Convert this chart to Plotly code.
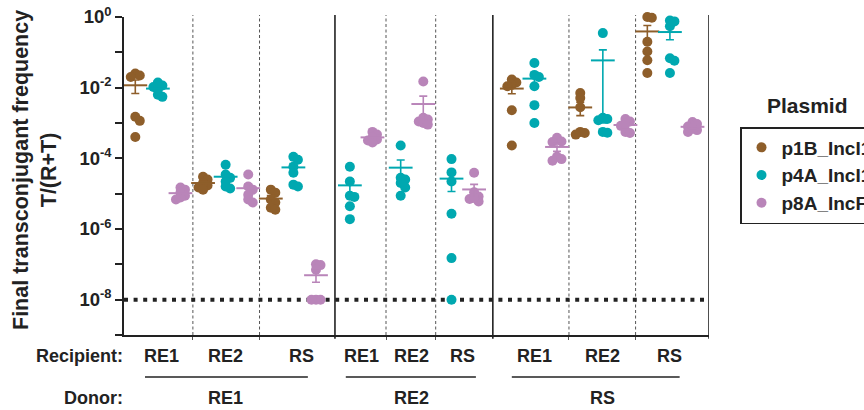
import numpy as np
import plotly.graph_objects as go

# ---------------- data ----------------
plasmids = ["p1B_IncI1", "p4A_IncI1", "p8A_IncFII"]
donors = ["RE1", "RE2", "RS"]
recipients = ["RE1", "RE2", "RS"]
detection_limit = 1e-8
major_exponents = [0, -2, -4, -6, -8]
minor_exponents = [-1, -3, -5, -7, -9]

# Donor RE1
p1B_dRE1_rRE1 = [2.5e-2, 2.2e-2, 2.0e-2, 1.5e-3, 1.15e-3, 4.0e-4]
p4A_dRE1_rRE1 = [1.4e-2, 1.15e-2, 1.05e-2, 8.7e-3, 6.3e-3, 5.5e-3]
p8A_dRE1_rRE1 = [1.5e-5, 1.3e-5, 1.07e-5, 8.7e-6, 7.8e-6, 6.8e-6]
p1B_dRE1_rRE2 = [3.0e-5, 2.5e-5, 2.0e-5, 1.7e-5, 1.5e-5, 1.3e-5]
p4A_dRE1_rRE2 = [6.6e-5, 3.5e-5, 2.8e-5, 2.2e-5, 1.6e-5, 1.4e-5]
p8A_dRE1_rRE2 = [3.5e-5, 1.6e-5, 1.3e-5, 9.3e-6, 6.8e-6, 5.6e-6]
p1B_dRE1_rRS = [1.3e-5, 1.07e-5, 6.8e-6, 5.6e-6, 4.0e-6, 3.5e-6]
p4A_dRE1_rRS = [1.1e-4, 9.1e-5, 5.8e-5, 3.9e-5, 1.8e-5, 1.6e-5]
p8A_dRE1_rRS = [1.0e-7, 9.5e-8, 7.0e-8, 1.0e-8, 1.0e-8, 1.0e-8]
# Donor RE2 (p1B not tested)
p4A_dRE2_rRE1 = [5.8e-5, 2.2e-5, 8.7e-6, 8.1e-6, 4.4e-6, 1.9e-6]
p8A_dRE2_rRE1 = [5.6e-4, 4.7e-4, 3.8e-4, 3.4e-4, 3.2e-4, 2.8e-4]
p4A_dRE2_rRE2 = [2.3e-4, 2.8e-5, 2.5e-5, 2.0e-5, 1.5e-5, 8.7e-6]
p8A_dRE2_rRE2 = [1.5e-2, 1.4e-3, 1.25e-3, 1.1e-3, 1.0e-3, 9.0e-4]
p4A_dRE2_rRS = [9.5e-5, 4.0e-5, 2.2e-5, 2.7e-6, 1.5e-7, 1.0e-8]
p8A_dRE2_rRS = [3.9e-5, 1.1e-5, 8.3e-6, 7.1e-6, 6.0e-6, 7.6e-6]
# Donor RS
p1B_dRS_rRE1 = [1.7e-2, 1.4e-2, 1.2e-2, 1.1e-2, 2.3e-3, 2.3e-4]
p4A_dRS_rRE1 = [5.0e-2, 2.3e-2, 2.0e-2, 1.1e-2, 3.2e-3, 1.0e-3]
p8A_dRS_rRE1 = [3.8e-4, 3.0e-4, 2.9e-4, 1.1e-4, 8.5e-5, 9.5e-5]
p1B_dRS_rRE2 = [7.1e-3, 5.1e-3, 2.8e-3, 5.6e-4, 5.2e-4, 4.7e-4]
p4A_dRS_rRE2 = [3.5e-1, 1.4e-3, 1.3e-3, 1.2e-3, 5.6e-4, 5.3e-4]
p8A_dRS_rRE2 = [1.3e-3, 1.1e-3, 8.3e-4, 5.6e-4, 5.2e-4, 9.5e-4]
p1B_dRS_rRS = [1.0, 0.95, 2.0e-1, 1.05e-1, 6.0e-2, 2.6e-2]
p4A_dRS_rRS = [8.0e-1, 7.5e-1, 5.5e-1, 6.8e-2, 5.8e-2, 2.6e-2]
p8A_dRS_rRS = [1.07e-3, 8.0e-4, 6.3e-4, 5.6e-4, 6.9e-4, 9.3e-4]

data = {
    ("RE1", "RE1"): [p1B_dRE1_rRE1, p4A_dRE1_rRE1, p8A_dRE1_rRE1],
    ("RE1", "RE2"): [p1B_dRE1_rRE2, p4A_dRE1_rRE2, p8A_dRE1_rRE2],
    ("RE1", "RS"): [p1B_dRE1_rRS, p4A_dRE1_rRS, p8A_dRE1_rRS],
    ("RE2", "RE1"): [None, p4A_dRE2_rRE1, p8A_dRE2_rRE1],
    ("RE2", "RE2"): [None, p4A_dRE2_rRE2, p8A_dRE2_rRE2],
    ("RE2", "RS"): [None, p4A_dRE2_rRS, p8A_dRE2_rRS],
    ("RS", "RE1"): [p1B_dRS_rRE1, p4A_dRS_rRE1, p8A_dRS_rRE1],
    ("RS", "RE2"): [p1B_dRS_rRE2, p4A_dRS_rRE2, p8A_dRS_rRE2],
    ("RS", "RS"): [p1B_dRS_rRS, p4A_dRS_rRS, p8A_dRS_rRS],
}

# ---------------- layout / style ----------------
colors = ["#8E5E2A", "#00A8B0", "#B985B9"]
FONT = "Liberation Sans, Arial, sans-serif"
INK = "#222222"
W, H = 864, 410
ML, MR, MT, MB = 124, 155, 17, 75
X_RANGE = [0, 25.9]
Y_RANGE = [-9, 0]
PX_UNIT = (W - ML - MR) / (X_RANGE[1] - X_RANGE[0])
PX_DEC = (H - MT - MB) / (Y_RANGE[1] - Y_RANGE[0])
MARKER = 10

group_center = {
    ("RE1", "RE1"): 1.5, ("RE1", "RE2"): 4.5, ("RE1", "RS"): 7.5,
    ("RE2", "RE1"): 10.5, ("RE2", "RE2"): 12.75, ("RE2", "RS"): 15.0,
    ("RS", "RE1"): 18.17, ("RS", "RE2"): 21.2, ("RS", "RS"): 24.17,
}
label_center = dict(group_center)
label_center[("RE1", "RE1")] = 1.65
label_center[("RE1", "RS")] = 7.85
dashed_sep = [3.05, 6.0, 11.6, 13.8, 19.7, 22.65]
solid_sep = [9.34, 16.33, X_RANGE[1]]
donor_center = {"RE1": 4.5, "RE2": 12.75, "RS": 21.2}
donor_line = {"RE1": (0.93, 8.14), "RE2": (9.82, 15.58), "RS": (17.17, 24.6)}


def px_to_paper_x(px):
    return (px - ML) / (W - ML - MR)


def px_to_paper_y(py):
    return (H - MB - py) / (H - MT - MB)


def swarm(vals, d=MARKER):
    ys = np.log10(np.asarray(vals)) * PX_DEC
    order = np.argsort(-ys)
    placed = []
    offs = np.zeros(len(vals))
    cands = [0, 0.45, -0.45, 0.9, -0.9, 1.35, -1.35]
    for i in order:
        chosen = cands[-1] * d
        for k in cands:
            ox = k * d
            if all((ox - px) ** 2 + (ys[i] - py) ** 2 >= (0.45 * d) ** 2 for px, py in placed):
                chosen = ox
                break
        placed.append((chosen, ys[i]))
        offs[i] = chosen
    return offs / PX_UNIT


fig = go.Figure()

pts = {j: ([], []) for j in range(3)}
means = {j: ([], [], [], []) for j in range(3)}
for key, series in data.items():
    present = [j for j in range(3) if series[j] is not None]
    n = len(present)
    offsets = [k - (n - 1) / 2 for k in range(n)]
    for off, j in zip(offsets, present):
        vals = np.asarray(series[j], dtype=float)
        xc = group_center[key] + off
        jit = swarm(vals)
        pts[j][0].extend(list(xc + jit))
        pts[j][1].extend(list(vals))
        m = vals.mean()
        sem = vals.std(ddof=1) / np.sqrt(len(vals))
        means[j][0].append(xc)
        means[j][1].append(m)
        means[j][2].append(sem)
        means[j][3].append(min(sem, m * 0.999))

for j in range(3):
    fig.add_trace(go.Scatter(
        x=pts[j][0], y=pts[j][1], mode="markers", name=plasmids[j],
        legendgroup=plasmids[j], showlegend=True, cliponaxis=False,
        marker=dict(size=MARKER, color=colors[j], line=dict(width=0)),
        hoverinfo="skip",
    ))
for j in range(3):
    fig.add_trace(go.Scatter(
        x=means[j][0], y=means[j][1], mode="markers", legendgroup=plasmids[j],
        showlegend=False, cliponaxis=False,
        marker=dict(symbol="line-ew", size=17, color=colors[j],
                    line=dict(width=2, color=colors[j])),
        error_y=dict(type="data", symmetric=False, array=means[j][2],
                     arrayminus=means[j][3], width=4, thickness=1.6,
                     color=colors[j]),
        hoverinfo="skip",
    ))

shapes = []
shapes.append(dict(type="line", xref="x", yref="y", x0=X_RANGE[0], x1=X_RANGE[1],
                   y0=detection_limit, y1=detection_limit, layer="below",
                   line=dict(color=INK, width=4, dash="4px,5.6px")))
for xs in dashed_sep:
    shapes.append(dict(type="line", xref="x", yref="paper", x0=xs, x1=xs, y0=0, y1=1.006,
                       layer="below", line=dict(color="#555555", width=1, dash="3px,2.5px")))
for xs in solid_sep:
    shapes.append(dict(type="line", xref="x", yref="paper", x0=xs, x1=xs, y0=-0.012, y1=1.006,
                       line=dict(color=INK, width=1.6)))
yline = px_to_paper_y(377)
for d in donors:
    a, b = donor_line[d]
    shapes.append(dict(type="line", xref="x", yref="paper", x0=a, x1=b, y0=yline, y1=yline,
                       line=dict(color=INK, width=1.6)))

ann = []
y_rec = px_to_paper_y(356)
y_don = px_to_paper_y(398)
lab_font = dict(family=FONT, size=18, color=INK, weight="bold")
ann.append(dict(text="Recipient:", xref="paper", yref="paper", x=px_to_paper_x(125), y=y_rec,
                xanchor="right", yanchor="middle", showarrow=False, font=lab_font))
ann.append(dict(text="Donor:", xref="paper", yref="paper", x=px_to_paper_x(125), y=y_don,
                xanchor="right", yanchor="middle", showarrow=False, font=lab_font))
for (d, r), xc in label_center.items():
    ann.append(dict(text=r, xref="x", yref="paper", x=xc, y=y_rec, xanchor="center",
                    yanchor="middle", showarrow=False, font=lab_font))
for d in donors:
    ann.append(dict(text=d, xref="x", yref="paper", x=donor_center[d], y=y_don,
                    xanchor="center", yanchor="middle", showarrow=False, font=lab_font))
ann.append(dict(text="Final transconjugant frequency<br>T/(R+T)", xref="paper", yref="paper",
                x=px_to_paper_x(35), y=px_to_paper_y(170), xanchor="center", yanchor="middle",
                textangle=-90, showarrow=False,
                font=dict(family=FONT, size=21.5, color=INK, weight="bold")))
ann.append(dict(text="Plasmid", xref="paper", yref="paper",
                x=px_to_paper_x(807), y=px_to_paper_y(105),
                xanchor="center", yanchor="middle", showarrow=False,
                font=dict(family=FONT, size=21, color=INK, weight="bold")))

fig.update_layout(
    width=W, height=H,
    margin=dict(l=ML, r=MR, t=MT, b=MB, autoexpand=False),
    paper_bgcolor="white", plot_bgcolor="white",
    font=dict(family=FONT, color=INK),
    shapes=shapes, annotations=ann,
    showlegend=True,
    legend=dict(x=px_to_paper_x(740), y=px_to_paper_y(127),
                xanchor="left", yanchor="top", bordercolor=INK, borderwidth=1.5,
                bgcolor="white", traceorder="grouped", tracegroupgap=0,
                font=dict(family=FONT, size=19, color=INK, weight="bold")),
    xaxis=dict(range=X_RANGE, showgrid=False, zeroline=False, showticklabels=False,
               showline=True, linecolor=INK, linewidth=1.6,
               ticks="outside", ticklen=3, tickwidth=1, tickcolor="#555555",
               tickmode="array", tickvals=dashed_sep),
    yaxis=dict(type="log", range=Y_RANGE, showgrid=False, zeroline=False,
               showline=True, linecolor=INK, linewidth=1.6,
               ticks="outside", ticklen=7, tickwidth=1.6, tickcolor=INK,
               tickmode="array", tickvals=[10.0 ** e for e in major_exponents],
               ticktext=["10<sup>%d</sup>" % e for e in major_exponents],
               minor=dict(tickmode="array", tickvals=[10.0 ** e for e in minor_exponents],
                          ticks="outside", ticklen=7, tickwidth=1.6, tickcolor=INK,
                          showgrid=False),
               tickfont=dict(family=FONT, size=18.5, color=INK, weight="bold")),
)

fig.write_html("out.html", config={"displayModeBar": False},
               post_script="document.body.style.margin='0';")
